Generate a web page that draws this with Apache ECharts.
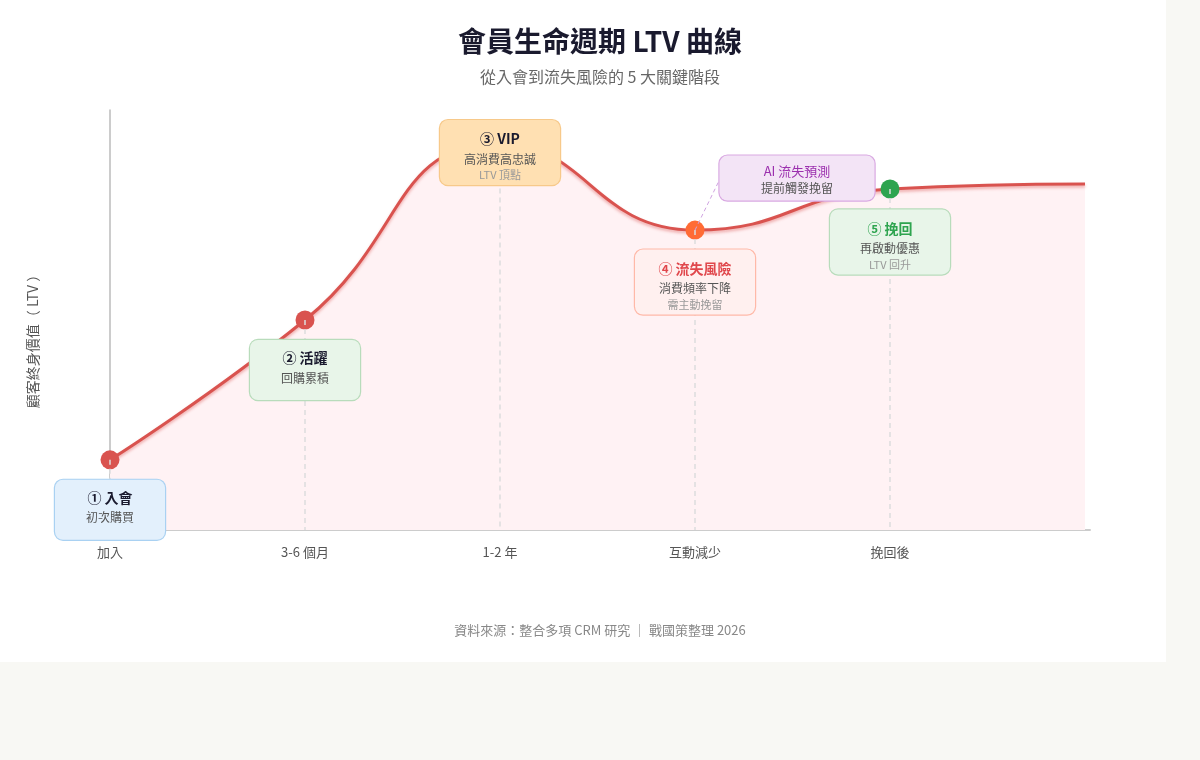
<!DOCTYPE html>
<html>
<head>
<meta charset="utf-8">
<script src="https://cdn.jsdelivr.net/npm/echarts@6/dist/echarts.min.js"></script>
<style>
  html, body { margin: 0; padding: 0; background: #f8f8f4; }
  #card { position: absolute; left: 0; top: 0; width: 1166px; height: 662px; background: #fff; }
  #main { position: absolute; left: 0; top: 0; width: 1200px; height: 760px; }
</style>
</head>
<body>
<div id="card"></div>
<div id="main"></div>
<script>
// stage labels on the x axis
var stages = ['加入', '3-6 個月', '1-2 年', '互動減少', '挽回後', ''];
// relative LTV at each stage (0-100)
var ltv = [16.7, 50, 92, 71.4, 81.2, 82.4];
var dotColors = ['#d9534f', '#d9534f', '#f0883e', '#ff6b35', '#2ea44f', null];

// annotation boxes
var boxTitles = ['① 入會', '② 活躍', '③ VIP', '④ 流失風險', '⑤ 挽回'];
var boxLines = ['初次購買', '回購累積', '高消費高忠誠', '消費頻率下降', '再啟動優惠'];
var boxNotes = ['', '', 'LTV 頂點', '需主動挽留', 'LTV 回升'];
var aiTitle = 'AI 流失預測';
var aiLine = '提前觸發挽留';

var FONT = '"Noto Sans CJK TC", "Noto Sans", sans-serif';

var boxStyle = [
  { bg: '#e3f0fc', border: '#a9d1f2', title: '#1a1a2e', w: 110, off: [0, 50] },
  { bg: '#e8f5e9', border: '#b8dcbb', title: '#1a1a2e', w: 110, off: [0, 50] },
  { bg: '#ffe0b2', border: '#f7c98a', title: '#1a1a2e', w: 120, off: [0, 9] },
  { bg: '#fff0ef', border: '#ffb9a8', title: '#e0474c', w: 120, off: [0, 52] },
  { bg: '#e8f5e9', border: '#b8dcbb', title: '#2ea44f', w: 120, off: [0, 53] }
];

var lineData = ltv.map(function (v, i) {
  var item = { value: [i, v] };
  if (dotColors[i]) {
    item.symbol = 'circle';
    item.symbolSize = 19;
    item.itemStyle = { color: dotColors[i] };
  } else {
    item.symbol = 'none';
  }
  return item;
});

var boxData = boxTitles.map(function (t, i) {
  var st = boxStyle[i];
  var hasNote = boxNotes[i] !== '';
  var txt = '{t|' + t + '}\n{s|' + boxLines[i] + '}' + (hasNote ? '\n{n|' + boxNotes[i] + '}' : '');
  return {
    value: [i, ltv[i]],
    label: {
      show: true,
      position: 'inside',
      offset: st.off,
      formatter: txt,
      width: st.w,
      align: 'center',
      opacity: 1,
      padding: hasNote ? [8, 0, 3, 0] : [7, 0, 13, 0],
      backgroundColor: st.bg,
      borderColor: st.border,
      borderWidth: 1.2,
      borderRadius: 8,
      rich: {
        t: { fontFamily: FONT, fontSize: 14, fontWeight: 'bold', color: st.title, lineHeight: 22, align: 'center' },
        s: { fontFamily: FONT, fontSize: 12, color: '#555', lineHeight: 18, align: 'center' },
        n: { fontFamily: FONT, fontSize: 11, color: '#999', lineHeight: 14, align: 'center' }
      }
    }
  };
});

// AI prediction box hangs off the churn-risk point
boxData.push({
  value: [3, ltv[3]],
  label: {
    show: true,
    position: 'inside',
    offset: [102, -52],
    formatter: '{t|' + aiTitle + '}\n{s|' + aiLine + '}',
    width: 155,
    align: 'center',
    opacity: 1,
    padding: [6, 0, 3, 0],
    backgroundColor: '#f3e4f6',
    borderColor: '#d9a9e2',
    borderWidth: 1.2,
    borderRadius: 8,
    rich: {
      t: { fontFamily: FONT, fontSize: 13, color: '#9b2fae', lineHeight: 18, align: 'center' },
      s: { fontFamily: FONT, fontSize: 12, color: '#555', lineHeight: 18, align: 'center' }
    }
  }
});

var dropLines = [0, 1, 2, 3, 4].map(function (i) {
  return [{ coord: [i, ltv[i]] }, { coord: [i, 0] }];
});
dropLines.push([
  { coord: [3, ltv[3]], lineStyle: { color: '#cfa3e0', type: [4, 3], width: 1 } },
  { coord: [3.13, 83.8] }
]);

var chart = echarts.init(document.getElementById('main'));
chart.setOption({
  backgroundColor: 'transparent',
  textStyle: { fontFamily: FONT },
  title: [
    {
      text: '會員生命週期 LTV 曲線',
      left: 'center', top: 22,
      textStyle: { fontFamily: FONT, fontSize: 28, fontWeight: 'bold', color: '#1a1a2e' }
    },
    {
      text: '從入會到流失風險的 5 大關鍵階段',
      left: 'center', top: 64,
      textStyle: { fontFamily: FONT, fontSize: 16, fontWeight: 'normal', color: '#666' }
    },
    {
      text: '資料來源：整合多項 CRM 研究 ｜ 戰國策整理 2026',
      left: 'center', top: 619,
      textStyle: { fontFamily: FONT, fontSize: 13, fontWeight: 'normal', color: '#888' }
    }
  ],
  grid: { left: 110, top: 110, width: 980, height: 420 },
  xAxis: {
    type: 'value',
    min: 0, max: 5.0256, interval: 1,
    axisLine: { lineStyle: { color: '#cccccc', width: 2 } },
    axisTick: { show: false },
    splitLine: { show: false },
    axisLabel: {
      margin: 16, color: '#555', fontSize: 13, fontFamily: FONT,
      showMaxLabel: false,
      formatter: function (v) { return stages[Math.round(v)] || ''; }
    }
  },
  yAxis: {
    type: 'value',
    min: 0, max: 100,
    name: '顧客終身價值（ LTV ）',
    nameLocation: 'middle',
    nameGap: 70,
    nameRotate: 90,
    nameTextStyle: { color: '#555', fontSize: 14, fontFamily: FONT, padding: [0, 36, 0, 0] },
    axisLine: { show: true, lineStyle: { color: '#bbbbbb', width: 1.5 } },
    axisTick: { show: false },
    axisLabel: { show: false },
    splitLine: { show: false }
  },
  series: [
    {
      type: 'line',
      z: 2,
      smooth: 0.5,
      data: lineData,
      lineStyle: {
        color: '#d9534f', width: 3,
        shadowColor: 'rgba(217,83,79,0.45)', shadowBlur: 3, shadowOffsetY: 2
      },
      areaStyle: { color: '#fff2f4', opacity: 1 },
      markLine: {
        silent: true,
        symbol: 'none',
        label: { show: false },
        lineStyle: { color: '#dddddd', type: [5, 4], width: 1.5 },
        data: dropLines
      }
    },
    {
      type: 'scatter',
      z: 5,
      symbolSize: 0,
      silent: true,
      itemStyle: { opacity: 1 },
      data: boxData
    }
  ]
});
</script>
</body>
</html>
